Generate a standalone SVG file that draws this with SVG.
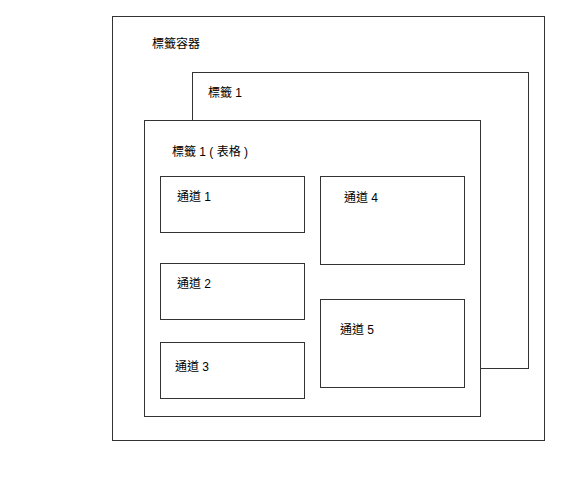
<svg xmlns="http://www.w3.org/2000/svg" width="584" height="480" viewBox="0 0 584 480">
<style>
rect{fill:#fff;stroke:#333;stroke-width:1}
text{font-family:"Liberation Sans","Noto Sans CJK TC",sans-serif;font-size:12px;fill:#000}
</style>
<rect x="0" y="0" width="584" height="480" style="stroke:none"/>
<g id="container"><rect x="112.5" y="16.5" width="432" height="424"/><text x="152" y="48">標籤容器</text></g>
<g id="tab1"><rect x="192.5" y="72.5" width="336" height="296"/><text x="208" y="97">標籤 1</text></g>
<g id="tab1table"><rect x="144.5" y="120.5" width="336" height="296"/><text x="172" y="156">標籤 1 ( 表格 )</text></g>
<g id="ch1"><rect x="160.5" y="176.5" width="144" height="56"/><text x="177" y="201">通道 1</text></g>
<g id="ch2"><rect x="160.5" y="263.5" width="144" height="56"/><text x="177" y="288">通道 2</text></g>
<g id="ch3"><rect x="160.5" y="342.5" width="144" height="56"/><text x="175" y="371">通道 3</text></g>
<g id="ch4"><rect x="320.5" y="176.5" width="144" height="88"/><text x="344" y="202">通道 4</text></g>
<g id="ch5"><rect x="320.5" y="299.5" width="144" height="88"/><text x="340" y="334">通道 5</text></g>
<g id="connectors"/>
</svg>
